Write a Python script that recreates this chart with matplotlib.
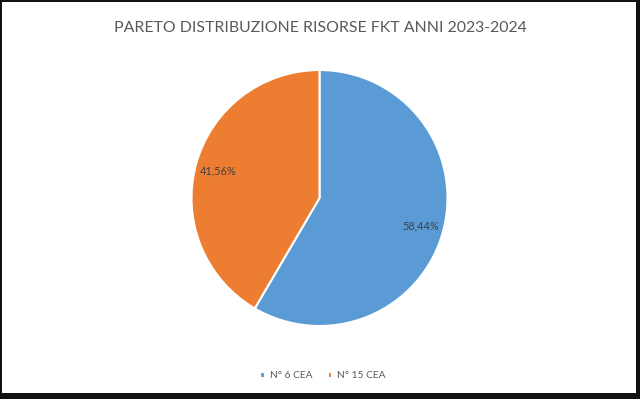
import matplotlib.pyplot as plt
from matplotlib.patches import Rectangle

# dati del grafico
categorie = ["N° 6 CEA", "N° 15 CEA"]
valori = [58.44, 41.56]
colori = ["#5b9bd5", "#ed7d31"]
titolo = "PARETO DISTRIBUZIONE RISORSE FKT ANNI 2023-2024"

plt.rcParams['font.family'] = ['Lato', 'DejaVu Sans']

W, H = 640, 399
fig = plt.figure(figsize=(W / 100, H / 100), dpi=100)
fig.patch.set_facecolor("white")

# cornice nera (screenshot)
for (x0, y0, w, h) in [(0, 0, 2 / W, 1), (0, 1 - 2 / H, 1, 2 / H),
                       (1 - 4 / W, 0, 4 / W, 1), (0, 0, 1, 6 / H)]:
    fig.add_artist(Rectangle((x0, y0), w, h, transform=fig.transFigure,
                             facecolor="#111111", edgecolor="none"))

cx, cy, r = 319.5, H - 198, 128
ax = fig.add_axes([(cx - r) / W, (cy - r) / H, 2 * r / W, 2 * r / H])
wedges, testi, pct = ax.pie(valori, colors=colori, startangle=90, counterclock=False,
                            autopct=lambda p: f"{p:.2f}".replace(".", ",") + "%",
                            pctdistance=0.82,
                            wedgeprops=dict(edgecolor="white", linewidth=1.5),
                            textprops=dict(color="#404040", fontsize=7.8))
ax.set_aspect("equal")
ax.set_xlim(-1, 1)
ax.set_ylim(-1, 1)

fig.text(0.5, 1 - 28 / H, titolo, ha="center", va="center", fontsize=11.4, color="#595959")

fig.legend(wedges, categorie, loc="center", bbox_to_anchor=(0.505, 1 - 376 / H), ncol=2,
           frameon=False, fontsize=7.3, labelcolor="#595959", handlelength=0.45,
           handleheight=0.45, handletextpad=0.5, columnspacing=1.5)

fig.savefig("out.png", dpi=100)
